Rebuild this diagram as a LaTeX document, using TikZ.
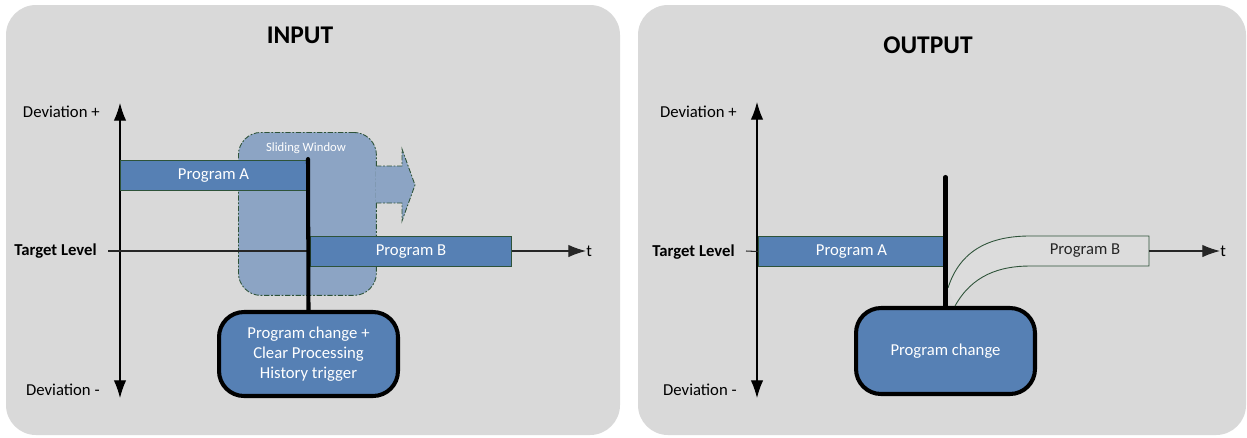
\documentclass[tikz,border=0pt]{standalone}
\usepackage{fontspec}
\setmainfont{Carlito}
\usetikzlibrary{arrows.meta}
\usetikzlibrary{positioning}

\definecolor{panelgray}{HTML}{D9D9D9}
\definecolor{barblue}{HTML}{5680B4}
\definecolor{bargreen}{HTML}{2E5339}
\definecolor{winblue}{HTML}{8CA4C4}
\definecolor{outgray}{HTML}{DCDCDC}

\tikzset{
  panel/.style={fill=panelgray, rounded corners=0.6cm},
  bar/.style={fill=barblue, draw=bargreen, line width=0.6pt, text=white,
    minimum height=0.6cm, inner sep=0pt, anchor=north west},
  trigbox/.style={fill=barblue, draw=black, line width=2.3pt, rounded corners=0.5cm,
    text=white, align=center, inner sep=0pt},
  winbox/.style={fill=winblue, draw=bargreen, line width=0.5pt,
    dash pattern=on 3pt off 1pt on 1pt off 1pt, rounded corners=0.45cm},
  devlbl/.style={anchor=east, inner sep=0pt},
  ttl/.style={font=\fontsize{14.5}{17}\selectfont\bfseries},
  cut/.style={line width=2.3pt, line cap=round},
  axis/.style={line width=0.6pt, >={Latex[length=10pt,width=7pt]}},
  every node/.style={font=\fontsize{9.5}{11.3}\selectfont}
}

\begin{document}
\begin{tikzpicture}[x=0.02cm,y=-0.02cm]
\useasboundingbox (0,0) rectangle (1247,437);

% panels
\fill[panel] (6,5) rectangle (620,435);
\fill[panel] (638,5) rectangle (1246,435);

%%% INPUT
\node[ttl] (titleIn) at (300,35) {INPUT};

% sliding window
\node[winbox, minimum width=2.76cm, minimum height=3.26cm, anchor=north west] (win) at (238,132) {};
\node[text=white, font=\fontsize{7.2}{8}\selectfont] (winLbl) at (306,148) {Sliding Window};
\fill[winblue] (376,166) -- (402,166) -- (402,149) -- (415,185) -- (402,221) -- (402,203) -- (376,203) -- cycle;
\draw[bargreen, line width=0.5pt, dash pattern=on 3pt off 1pt on 1pt off 1pt]
  (376,166) -- (402,166) -- (402,149) -- (415,185) -- (402,221) -- (402,203) -- (376,203);

% axes
\coordinate (devTopL) at (120,103);
\coordinate (devBotL) at (120,398);
\draw[axis,<->] (devTopL) -- (devBotL);
\node[devlbl] (devPlusL) at (100,112) {Deviation +};
\node[devlbl] (devMinusL) at (100,390) {Deviation -};
\node[devlbl, font=\fontsize{9.5}{11.3}\selectfont\bfseries] (tgtL) at (97,251) {Target Level};
\coordinate (lvlL) at (108,251);
\node[anchor=west, inner sep=0pt] (tL) at (586,251) {t};
\draw[axis,->,black!85] (lvlL) -- (tL.west);

% programs
\node[bar, minimum width=3.72cm] (progAL) at (120,160) {Program A};
\node[bar, minimum width=4.02cm] (progBL) at (310,236) {Program B};

% trigger
\node[trigbox, minimum width=3.58cm, minimum height=1.68cm] (trigL) at (308.5,354)
  {Program change +\\Clear Processing\\History trigger};
\coordinate (cutTopL) at (308,159);
\draw[cut] (trigL.north) -- (cutTopL);

%%% OUTPUT
\node[ttl] (titleOut) at (928,45) {OUTPUT};

% axes
\coordinate (devTopR) at (757,102);
\coordinate (devBotR) at (757,398);
\draw[axis,<->] (devTopR) -- (devBotR);
\node[devlbl] (devPlusR) at (737,112) {Deviation +};
\node[devlbl] (devMinusR) at (737,390) {Deviation -};
\node[devlbl, font=\fontsize{9.5}{11.3}\selectfont\bfseries] (tgtR) at (735,252) {Target Level};
\coordinate (lvlR) at (746,251);
\node[anchor=west, inner sep=0pt] (tR) at (1220,251) {t};

% programs
\node[bar, minimum width=3.72cm] (progAR) at (758,236) {Program A};
\draw[line width=0.6pt, black!85] (lvlR) -- (progAR.west);
\node[trigbox, minimum width=3.58cm, minimum height=1.72cm] (trigR) at (945.5,351) {Program change};
\coordinate (cutTopR) at (945.5,177);
\coordinate (bendTop) at (948,288);
\coordinate (bendBot) at (955,306);
\coordinate (progBEnd) at (1149,251);
\filldraw[fill=outgray, draw=bargreen, line width=0.5pt]
  (bendTop) .. controls (960,250) and (990,236) .. (1030,236) -- (1149,236)
  -- (1149,266) -- (1030,266) .. controls (1000,266) and (972,275) .. (bendBot);
\node[text=black!85] (progBR) at (1085,251) {Program B};
\draw[axis,->,black!85] (progBEnd) -- (tR.west);
\draw[cut] (trigR.north) -- (cutTopR);
\end{tikzpicture}
\end{document}
